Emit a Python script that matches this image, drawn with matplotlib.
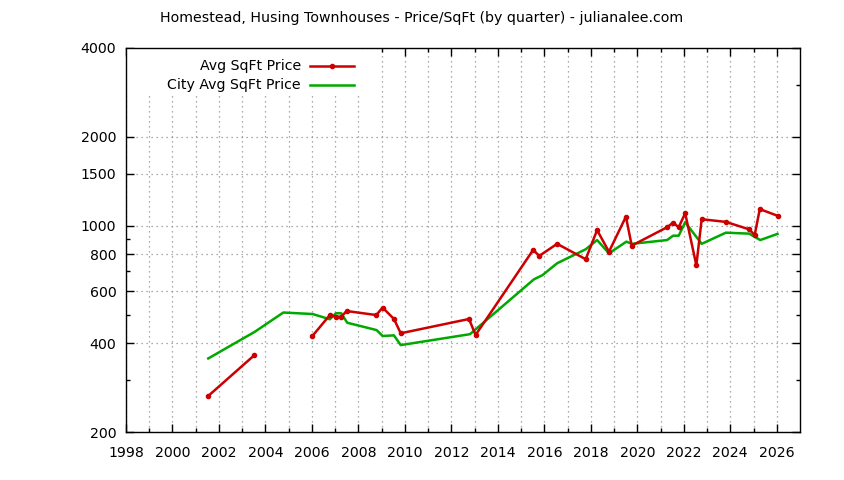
#!/usr/bin/env python3

import numpy as np
import matplotlib
from matplotlib import pyplot as plt
from matplotlib.patches import Rectangle
from matplotlib.lines import Line2D
from matplotlib.ticker import FixedLocator, NullFormatter

matplotlib.rcParams["font.family"] = "DejaVu Sans"
matplotlib.rcParams["font.size"] = 10.2

nan = np.nan

# Avg SqFt Price (nan = gap in the data)
avg_years = [2001.54, 2003.52, 2005.0, 2006.01, 2006.77, 2007.03, 2007.26,
             2007.49, 2008.77, 2009.04, 2009.53, 2009.82, 2012.76, 2013.04,
             2015.52, 2015.78, 2016.55, 2017.78, 2018.27, 2018.78, 2019.51,
             2019.76, 2021.28, 2021.54, 2021.78, 2022.06, 2022.54, 2022.77,
             2023.81, 2024.81, 2025.05, 2025.27, 2026.07]
avg_price = [265, 364, nan, 422, 498, 491, 491,
             514, 498, 528, 483, 432, 483, 426,
             828, 790, 868, 770, 966, 816, 1073,
             856, 988, 1024, 988, 1102, 734, 1052,
             1030, 972, 930, 1138, 1078]

# City Avg SqFt Price
city_years = [2001.54, 2003.54, 2004.77, 2006.03, 2006.77, 2007.03, 2007.26,
              2007.52, 2008.78, 2009.04, 2009.53, 2009.82, 2012.8, 2015.55,
              2015.92, 2016.55, 2017.78, 2018.27, 2018.78, 2019.53, 2019.76,
              2021.28, 2021.54, 2021.78, 2022.06, 2022.77, 2023.81, 2024.81,
              2025.29, 2026.03]
city_price = [355, 437, 508, 502, 482, 505, 505,
              469, 443, 423, 425, 394, 429, 658,
              680, 746, 832, 894, 806, 883, 868,
              894, 925, 925, 1027, 868, 947, 940,
              894, 938]

y_major = [200, 400, 600, 800, 1000, 1500, 2000, 4000]
y_minor = [300, 500, 700, 900, 3000]
x_major = list(range(1998, 2027, 2))
x_minor = list(range(1999, 2027, 2))

title = "Homestead, Husing Townhouses - Price/SqFt (by quarter) - julianalee.com"
red = "#cc0000"
green = "#00a800"

fig = plt.figure(figsize=(8.44, 4.8), dpi=100)
ax = fig.add_axes([126 / 844, 48 / 480, 674 / 844, 384 / 480])

ax.set_yscale("log")
ax.set_xlim(1998, 2027)
ax.set_ylim(200, 4000)

ax.yaxis.set_major_locator(FixedLocator(y_major))
ax.yaxis.set_minor_locator(FixedLocator(y_minor))
ax.set_yticklabels([str(v) for v in y_major])
ax.yaxis.set_minor_formatter(NullFormatter())
ax.xaxis.set_major_locator(FixedLocator(x_major))
ax.xaxis.set_minor_locator(FixedLocator(x_minor))
ax.set_xticklabels([str(v) for v in x_major])

ax.tick_params(which="both", direction="in", top=True, right=True, width=1)
ax.tick_params(which="major", length=6)
ax.tick_params(which="minor", length=3)
ax.tick_params(axis="x", which="major", pad=10)
ax.tick_params(axis="y", which="major", pad=7)

grid_style = dict(color="#909090", linestyle=(0, (1, 3)), linewidth=0.9)
ax.grid(True, which="major", axis="both", **grid_style)
ax.grid(True, which="minor", axis="x", **grid_style)
ax.set_axisbelow(True)
for sp in ax.spines.values():
    sp.set_linewidth(1)

ax.plot(avg_years, avg_price, color=red, lw=1.8, marker="o", ms=3, zorder=4)
ax.plot(city_years, city_price, color=green, lw=1.8, zorder=3)

# gnuplot-style key: opaque box, right-aligned labels, sample on the right
ax.add_patch(Rectangle((0, 0.875), 0.35, 0.125, transform=ax.transAxes,
                       facecolor="white", edgecolor="none", zorder=2))
key = [("Avg SqFt Price", red, "o", 66), ("City Avg SqFt Price", green, "", 85)]
for label, col, mk, ypx in key:
    yax = (432 - ypx) / 384
    x0, x1 = (310 - 126) / 674, (354 - 126) / 674
    ax.text((301 - 126) / 674, yax, label, transform=ax.transAxes,
            ha="right", va="center", zorder=5)
    ax.add_line(Line2D([x0, x1], [yax, yax], transform=ax.transAxes,
                       color=col, lw=1.8, zorder=5))
    if mk:
        ax.add_line(Line2D([(x0 + x1) / 2], [yax], transform=ax.transAxes,
                           color=col, marker=mk, ms=3, zorder=5))

fig.text(0.5, 1 - 18 / 480, title, ha="center", va="center")

plt.savefig("out.png", dpi=100)
